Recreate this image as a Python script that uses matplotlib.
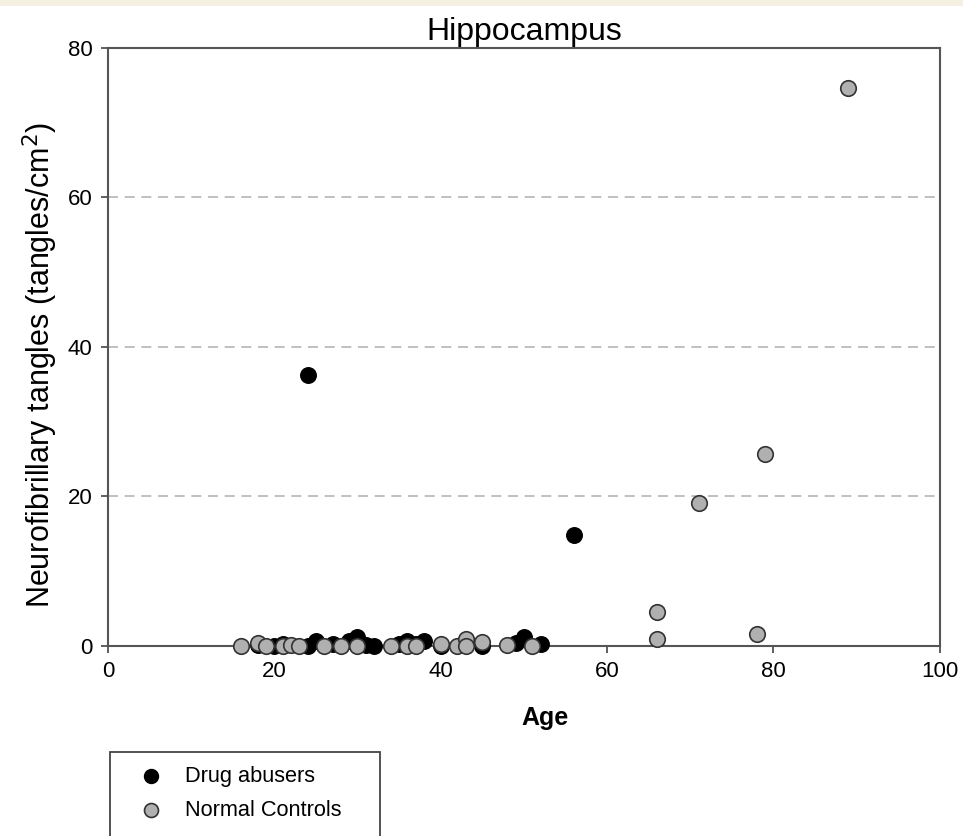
import matplotlib
matplotlib.use('Agg')
import matplotlib.pyplot as plt
from matplotlib.patches import Rectangle

plt.rcParams['font.family'] = ['Liberation Sans', 'DejaVu Sans']

# drug abusers (age, tangles/cm2)
abuser_age = [18, 20, 21, 24, 24, 25, 27, 29, 30, 30, 31, 32, 35, 36, 37, 38, 40, 45, 49, 50, 52, 56]
abuser_val = [0.1, 0.0, 0.2, 36.2, 0.0, 0.6, 0.3, 0.6, 1.2, 0.3, 0.1, 0.0, 0.3, 0.7, 0.2, 0.7, 0.0, 0.0, 0.4, 1.2, 0.3, 14.8]

# normal controls
control_age = [16, 18, 19, 21, 22, 23, 26, 28, 30, 34, 36, 37, 40, 42, 43, 43, 45, 48, 51, 66, 66, 71, 78, 79, 89]
control_val = [0.0, 0.4, 0.0, 0.0, 0.1, 0.0, 0.0, 0.0, 0.0, 0.0, 0.0, 0.0, 0.3, 0.0, 1.0, 0.0, 0.5, 0.1, 0.0, 4.5, 0.9, 19.1, 1.6, 25.7, 74.6]

xticks = [0, 20, 40, 60, 80, 100]
yticks = [0, 20, 40, 60, 80]

fig = plt.figure(figsize=(9.63, 8.36), dpi=100)
ax = fig.add_axes([0.112, 0.2273, 0.864, 0.7153])

# beige strip at the very top
fig.patches.append(Rectangle((0, 0.9928), 1, 0.0072, transform=fig.transFigure,
                             facecolor='#f5f0e1', edgecolor='none', zorder=0))

for v in [20, 40, 60]:
    ax.axhline(v, color='#b5b5b5', lw=1.2, ls=(0, (6, 4)), zorder=1)

ax.scatter(abuser_age, abuser_val, s=125, c='black', edgecolors='black', linewidths=1,
           zorder=6, clip_on=False, label='Drug abusers')
ax.scatter(control_age, control_val, s=125, c='#b0b0b0', edgecolors='#333333', linewidths=1.2,
           zorder=7, clip_on=False, label='Normal Controls')

ax.set_xlim(0, 100)
ax.set_ylim(0, 80)
ax.set_xticks(xticks)
ax.set_yticks(yticks)
ax.tick_params(direction='out', length=5, width=1.2, color='#444444', labelsize=16, pad=6)
for s in ax.spines.values():
    s.set_color('#555555')
    s.set_linewidth(1.5)

ax.set_title('Hippocampus', fontsize=23, pad=6)
ax.set_ylabel('Neurofibrillary tangles (tangles/cm$^2$)', fontsize=22)
ax.yaxis.set_label_coords(-0.057, 0.47)
ax.set_xlabel('Age', fontsize=18, fontweight='bold')
ax.xaxis.set_label_coords(0.525, -0.10)

# legend box, cut off by the bottom edge
fig.patches.append(Rectangle((110 / 963, -0.05), 270 / 963, 0.05 + (836 - 752) / 836,
                             transform=fig.transFigure, facecolor='white',
                             edgecolor='#444444', lw=1.3, zorder=2))
leg = fig.legend(handles=ax.collections, loc='upper left', bbox_to_anchor=(110 / 963, (836 - 746) / 836),
                 frameon=False, fontsize=15.7, handletextpad=0.55, labelspacing=0.6, markerscale=0.9)

fig.savefig('out.png', dpi=100)
